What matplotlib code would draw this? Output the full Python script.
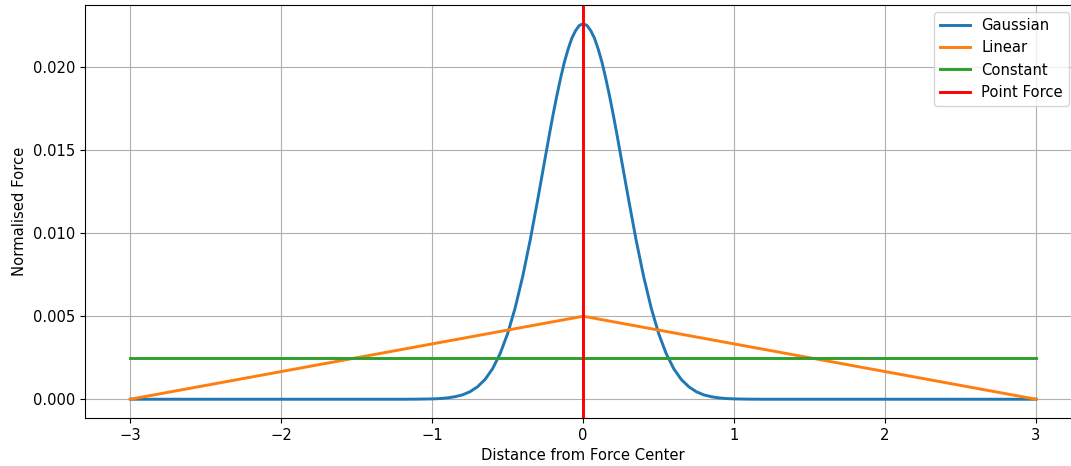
import matplotlib
matplotlib.use("Agg")
import matplotlib.pyplot as plt

plt.rcParams["font.size"] = 10.6

# ── Data ─────────────────────────────────────────────────────────────────────
gauss_x = [-3.0, -2.0, -1.5, -1.2, -1.1, -1.0, -0.95, -0.9, -0.85, -0.8,
           -0.75, -0.7, -0.65, -0.6, -0.55, -0.5, -0.45, -0.4, -0.35, -0.3,
           -0.275, -0.25, -0.225, -0.2, -0.175, -0.15, -0.125, -0.1, -0.075,
           -0.05, -0.025, 0.0, 0.025, 0.05, 0.075, 0.1, 0.125, 0.15, 0.175,
           0.2, 0.225, 0.25, 0.275, 0.3, 0.35, 0.4, 0.45, 0.5, 0.55, 0.6,
           0.65, 0.7, 0.75, 0.8, 0.85, 0.9, 0.95, 1.0, 1.1, 1.2, 1.5, 2.0, 3.0]
gauss_y = [0.0, 0.0, 0.0, 0.0, 0.000005, 0.00002, 0.00004, 0.00008, 0.00015, 0.00026,
           0.00045, 0.00075, 0.00119, 0.00184, 0.00275, 0.00396, 0.00552, 0.00742, 0.00963, 0.01208,
           0.01335, 0.01462, 0.01589, 0.01711, 0.01826, 0.01932, 0.02029, 0.02108, 0.02175,
           0.02221, 0.02252, 0.02262, 0.02252, 0.02221, 0.02175, 0.02108, 0.02029, 0.01932, 0.01826,
           0.01711, 0.01589, 0.01462, 0.01335, 0.01208, 0.00963, 0.00742, 0.00552, 0.00396, 0.00275, 0.00184,
           0.00119, 0.00075, 0.00045, 0.00026, 0.00015, 0.00008, 0.00004, 0.00002, 0.000005, 0.0, 0.0, 0.0, 0.0]

linear_x = [-3.0, 0.0, 3.0]
linear_y = [0.0, 0.005, 0.0]

const_x = [-3.0, 3.0]
const_y = [0.0025, 0.0025]

point_x = 0.0

fig = plt.figure(figsize=(10.71, 4.66), dpi=100)
ax = fig.add_axes([0.0794, 0.103, 0.9302, 0.8863])

ax.plot(gauss_x, gauss_y, lw=2.1, label="Gaussian")
ax.plot(linear_x, linear_y, lw=2.1, label="Linear")
ax.plot(const_x, const_y, lw=2.1, label="Constant")
ax.axvline(point_x, color="red", lw=2.1, label="Point Force")

ax.set_xlabel("Distance from Force Center")
ax.set_ylabel("Normalised Force")
ax.grid(True)

ax.legend(loc="upper right", bbox_to_anchor=(1069 / 1071, 1 - 12 / 466),
          bbox_transform=fig.transFigure, borderaxespad=0)

fig.savefig("out.png", dpi=100)
